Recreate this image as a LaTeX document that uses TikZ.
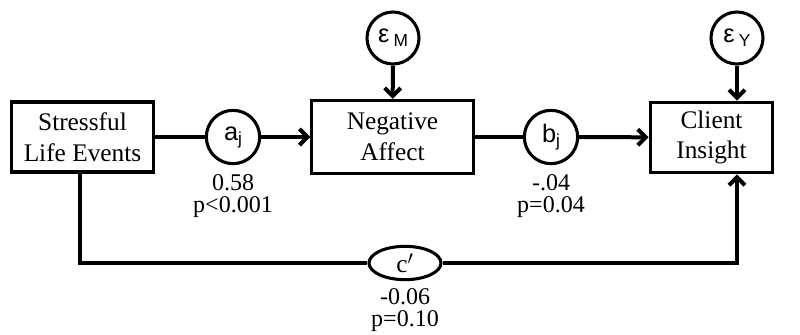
\documentclass[tikz,border=0pt]{standalone}
\usepackage{fontspec}
\setmainfont{Liberation Serif}
\setsansfont{Liberation Sans}
\usetikzlibrary{arrows.meta,shapes.geometric}
\newcommand{\lowsub}[1]{\raisebox{-0.3ex}{\fontsize{13}{13}\selectfont #1}}
\begin{document}
\begin{tikzpicture}[x=0.75pt,y=-0.75pt,
  varbox/.style={draw, line width=2.3pt, align=center, inner sep=0pt, fill=white,
    font=\fontsize{19}{23}\selectfont},
  pathcirc/.style={draw, circle, line width=2.3pt, inner sep=0pt, minimum size=40pt,
    fill=white, font=\sffamily\fontsize{19}{20}\selectfont},
  errcirc/.style={pathcirc, minimum size=39pt},
  link/.style={line width=3pt},
  arr/.style={link, -{Straight Barb[length=6pt,width=12pt]}},
  coef/.style={align=center, font=\fontsize{18}{16.5}\selectfont}]
\useasboundingbox (0,0) rectangle (800,335);
% variables
\node[varbox, minimum width=106pt, minimum height=52.5pt] (sle) at (82.5,137) {Stressful\\Life Events};
\node[varbox, minimum width=121pt, minimum height=55pt] (na) at (392.5,137) {Negative\\Affect};
\node[varbox, minimum width=92pt, minimum height=53pt] (ci) at (711.5,137.5) {Client\\Insight};
% paths and errors
\node[pathcirc] (aj) at (233,137) {a\lowsub{j}};
\node[pathcirc] (bj) at (551,137) {b\lowsub{j}};
\node[errcirc] (em) at (393,38) {ε\,\lowsub{M}};
\node[errcirc] (ey) at (737,38) {ε\,\lowsub{Y}};
\node[draw, ellipse, line width=2.3pt, minimum width=54pt, minimum height=25pt, inner sep=0pt,
  fill=white, font=\fontsize{19}{20}\selectfont] (cp) at (405,263) {c$'$};
\draw[link] (sle) -- (aj);
\draw[arr] (aj) -- (na);
\draw[link] (na) -- (bj);
\draw[arr] (bj) -- (ci);
\draw[arr] (em) -- (na);
\draw[arr] (ey) -- (ey |- ci.north);
% direct effect
\coordinate (bl) at (80,263);
\coordinate (br) at (737,263);
\draw[link] (sle.south -| bl) -- (bl) -- (cp);
\draw[arr] (cp) -- (br) -- (br |- ci.south);
% coefficients
\node[coef] (ajc) at (233,196) {0.58\\p<0.001};
\node[coef] (bjc) at (551,196) {-.04\\p=0.04};
\node[coef] (cpc) at (405,310) {-0.06\\p=0.10};
\end{tikzpicture}
\end{document}
